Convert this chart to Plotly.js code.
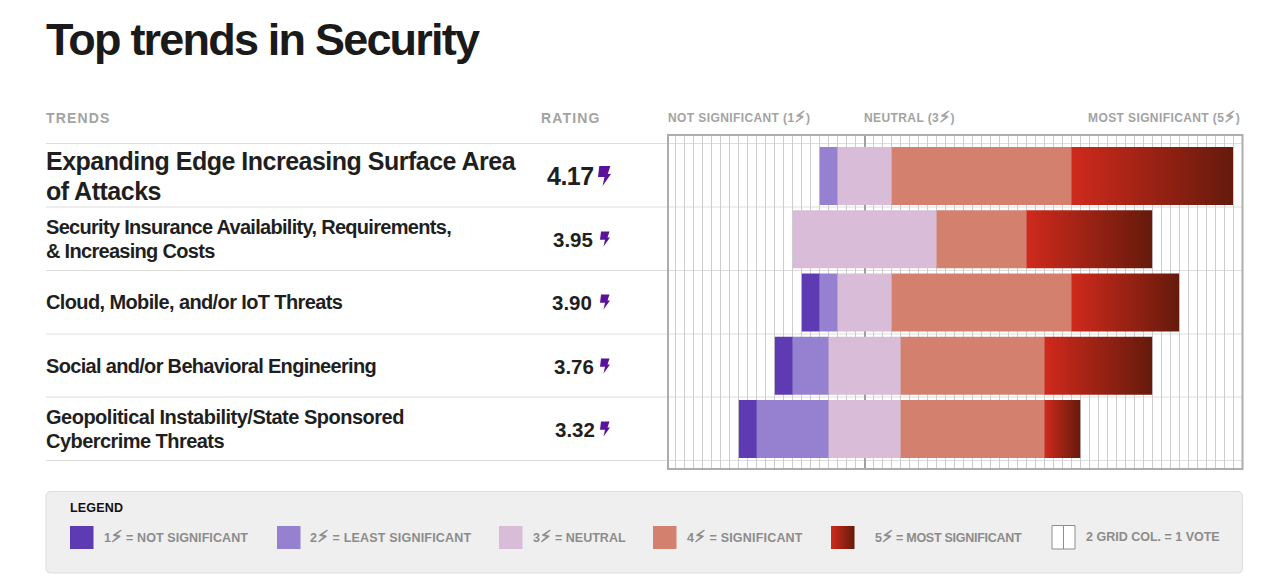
<!DOCTYPE html>
<html><head><meta charset="utf-8">
<script src="https://cdn.plot.ly/plotly-3.0.1.min.js"></script>
<style>
html,body{margin:0;padding:0;background:#fff;overflow:hidden}
#chart{width:1280px;height:587px}
.gtitle{letter-spacing:-1.8px}
</style></head><body><div id="chart"></div>
<script>
const categories = [
  "Expanding Edge Increasing Surface Area<br>of Attacks",
  "Security Insurance Availability, Requirements,<br>& Increasing Costs",
  "Cloud, Mobile, and/or IoT Threats",
  "Social and/or Behavioral Engineering",
  "Geopolitical Instability/State Sponsored<br>Cybercrime Threats"
];
const ratings = ["4.17","3.95","3.90","3.76","3.32"];
const notSignificant   = [0,0,1,1,1];
const leastSignificant = [1,0,1,2,4];
const neutral          = [3,8,3,4,4];
const significant      = [10,5,10,8,8];
const mostSignificant  = [9,7,6,6,2];
const seriesNames = ["1 = Not significant","2 = Least significant","3 = Neutral","4 = Significant","5 = Most significant"];
const seriesColors = ["#5e3bb3","#9581cf","#d8bcd8","#d4806e","#c92a1c"];
const BOLT='<span style="font-size:1.3em">⚡</span>';
const legendLabels = ["1"+BOLT+" = NOT SIGNIFICANT","2"+BOLT+" = LEAST SIGNIFICANT","3"+BOLT+" = NEUTRAL","4"+BOLT+" = SIGNIFICANT","5"+BOLT+" = MOST SIGNIFICANT","2 GRID COL. = 1 VOTE"];
const headerTexts = ["TRENDS","RATING","NOT SIGNIFICANT (1"+BOLT+")","NEUTRAL (3"+BOLT+")","MOST SIGNIFICANT (5"+BOLT+")"];

const W=1280,H=587;
const px=x=>x/W, py=y=>1-y/H;
const FONT='"Liberation Sans","DejaVu Sans",sans-serif';
const GRAY='#a3a3a3', DARK='#1f1f1f';

const series=[notSignificant,leastSignificant,neutral,significant,mostSignificant];
const starts=neutral.map((n,i)=>-(n/2+leastSignificant[i]+notSignificant[i]));
const traces=series.map((vals,k)=>{
  const base=vals.map((_,i)=>{let b=starts[i];for(let j=0;j<k;j++)b+=series[j][i];return b;});
  return {type:'bar',orientation:'h',name:seriesNames[k],y:[0,1,2,3,4],x:vals,base:base,width:0.917,
    marker:{color:seriesColors[k],line:{width:0}},hoverinfo:'skip'};
});

const shapes=[], annotations=[], annSpacing=[];
const rect=(x0,y0,x1,y1,fill,line,lw)=>shapes.push({type:'rect',xref:'paper',yref:'paper',x0:px(x0),x1:px(x1),y0:py(y0),y1:py(y1),
   fillcolor:fill,line:{color:line||fill,width:line?(lw||1):0},layer:'above'});
const text=(x,y,t,size,color,bold,ls)=>{annSpacing.push(ls||0);annotations.push({xref:'paper',yref:'paper',x:px(x),y:py(y),text:bold?'<b>'+t+'</b>':t,showarrow:false,
   xanchor:'left',yanchor:'middle',align:'left',borderpad:0,borderwidth:0,font:{family:FONT,size:size,color:color}});};

[143.5,207,270.5,334,397,460.5].forEach(y=>shapes.push({type:'line',xref:'paper',yref:'paper',x0:px(46),x1:px(1242),y0:py(y),y1:py(y),line:{color:'#dedede',width:1},layer:'below'}));

shapes.push({type:'rect',xref:'paper',yref:'paper',x0:px(668),x1:px(1242.5),y0:py(135),y1:py(469),fillcolor:'rgba(0,0,0,0)',line:{color:'#adadad',width:2},layer:'above'});

text(46,118,headerTexts[0],14,GRAY,true,1.15);
text(541,118,headerTexts[1],14,GRAY,true,1.15);
text(668,116.5,headerTexts[2],12,GRAY,true,0.4);
text(864,116.5,headerTexts[3],12,GRAY,true,0.4);
text(1088,116.5,headerTexts[4],12,GRAY,true,0.4);

const centers=[176,239,302,366,429];
const ratingX=[547,553,552,554,555];
const firstLineOffset=[-15,-12,0,0,-12], lineGap=[30,24,0,0,24];
const labelSpacing=[[-0.5,-0.5],[-0.7,-0.7],[-0.62],[-0.68],[-0.5,-0.55]];
categories.forEach((c,i)=>{
  c.split('<br>').forEach((line,j)=>text(46,centers[i]+firstLineOffset[i]+j*lineGap[i],line,i===0?25:20,DARK,true,labelSpacing[i][j]));
  text(ratingX[i],centers[i],ratings[i],i===0?25:20.5,DARK,true,i===0?-0.5:0);
  const bw=i===0?13:10,bh=i===0?20:15,bx=i===0?598:600,by=centers[i]-bh/2;
  const pts=[[.1,0],[.95,0],[.75,.4],[1,.4],[.35,1],[.5,.55],[0,.55]];
  shapes.push({type:'path',xref:'paper',yref:'paper',layer:'above',fillcolor:'#5a129c',line:{width:0},
    path:'M'+pts.map(p=>px(bx+p[0]*bw)+','+py(by+p[1]*bh)).join('L')+'Z'});
});

const rx0=px(46),rx1=px(1242.5),ry0=py(491.5),ry1=py(573);
const rrx=5/W,rry=5/H;
shapes.push({type:'path',xref:'paper',yref:'paper',layer:'above',fillcolor:'#efefef',line:{color:'#dddddd',width:1},
  path:`M${rx0+rrx},${ry0}L${rx1-rrx},${ry0}Q${rx1},${ry0} ${rx1},${ry0-rry}L${rx1},${ry1+rry}Q${rx1},${ry1} ${rx1-rrx},${ry1}L${rx0+rrx},${ry1}Q${rx0},${ry1} ${rx0},${ry1+rry}L${rx0},${ry0-rry}Q${rx0},${ry0} ${rx0+rrx},${ry0}Z`});
text(70,508,'LEGEND',12.5,'#111111',true,0.2);
const swatchX=[70,277,499,653,831], labelX=[104,310,533,687,875];
const legendSpacing=[0.08,0.2,0.02,0.2,-0.27];
seriesColors.forEach((col,i)=>{
  rect(swatchX[i],526,swatchX[i]+23.5,549,col);
  text(labelX[i],535.7,legendLabels[i],12.5,'#8c8c8c',true,legendSpacing[i]);
});
rect(1052,525.5,1075,549,'#ffffff','#8f8f8f',1);
shapes.push({type:'line',xref:'paper',yref:'paper',layer:'above',x0:px(1063.5),x1:px(1063.5),y0:py(525.5),y1:py(549),line:{color:'#8f8f8f',width:1}});
text(1086,537,legendLabels[5],12.5,'#8c8c8c',true,0);

const layout={
  width:W,height:H,margin:{l:0,r:0,t:0,b:0},paper_bgcolor:'#fff',plot_bgcolor:'#fff',
  barmode:'overlay',showlegend:false,hovermode:false,
  title:{text:'<b>Top trends in Security</b>',x:px(46),xref:'paper',xanchor:'left',y:py(39),yref:'paper',yanchor:'middle',font:{family:FONT,size:45,color:'#1a1a1a'}},
  xaxis:{domain:[px(667),px(1242)],range:[-11,21],tick0:0,dtick:0.5,showticklabels:false,ticks:'',
    showgrid:true,gridcolor:'#cdcdcd',gridwidth:1,zeroline:true,zerolinecolor:'#a0a0a0',zerolinewidth:2,
    showline:false,fixedrange:true},
  yaxis:{domain:[py(469),py(135)],range:[4.632,-0.648],showticklabels:false,ticks:'',showgrid:false,zeroline:false,
    showline:false,fixedrange:true},
  shapes:shapes,annotations:annotations
};

Plotly.newPlot('chart',traces,layout,{displayModeBar:false,staticPlot:true}).then(gd=>{
  const svg=gd.querySelector('svg.main-svg');
  const NS='http://www.w3.org/2000/svg';
  const g=document.createElementNS(NS,'linearGradient');
  g.setAttribute('id','mostGrad');
  [['0','#cf2a1c'],['1','#651a0c']].forEach(s=>{const e=document.createElementNS(NS,'stop');e.setAttribute('offset',s[0]);e.setAttribute('stop-color',s[1]);g.appendChild(e);});
  let defs=svg.querySelector('defs');
  if(!defs){defs=document.createElementNS(NS,'defs');svg.insertBefore(defs,svg.firstChild);}
  defs.appendChild(g);
  const traceEls=gd.querySelectorAll('.barlayer .trace');
  traceEls[traceEls.length-1].querySelectorAll('path').forEach(p=>{p.style.fill='url(#mostGrad)';});
  gd.querySelectorAll('.shapelayer path').forEach(p=>{
    if(p.style.fill.replace(/\s/g,'')==='rgb(201,42,28)')p.style.fill='url(#mostGrad)';
  });
  gd.querySelectorAll('.annotation').forEach(a=>{
    const idx=+a.getAttribute('data-index');
    const t=a.querySelector('.annotation-text');
    t.style.letterSpacing=annSpacing[idx]+'px';
    t.querySelectorAll('tspan').forEach(s=>{
      if(s.textContent==='⚡'){s.style.stroke=t.style.fill;s.style.strokeWidth='0.7px';}
    });
  });
});
</script></body></html>
